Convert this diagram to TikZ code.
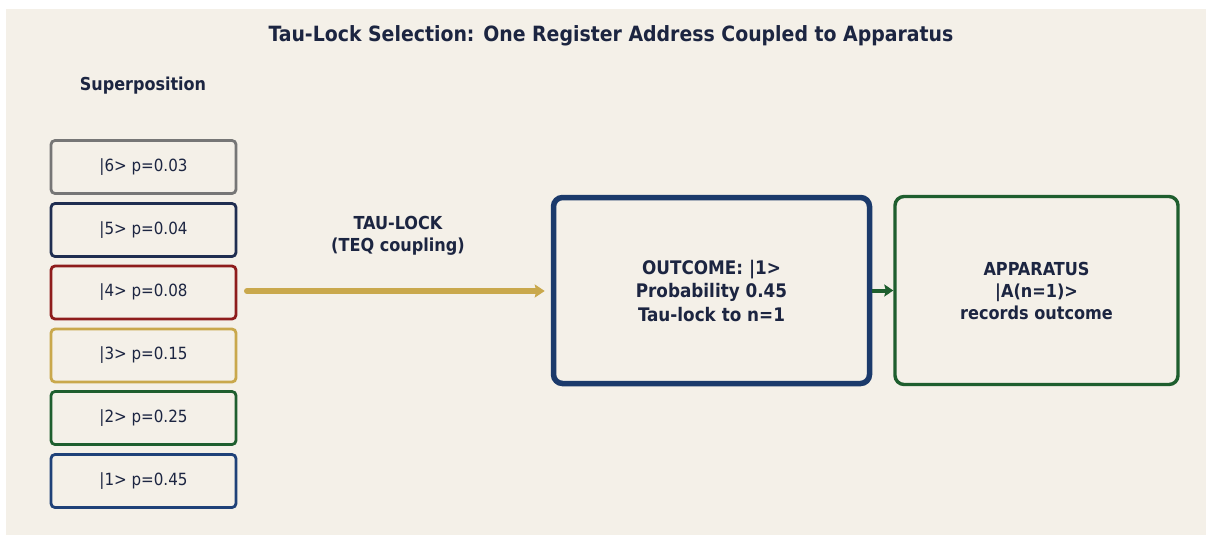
\documentclass[tikz,border=0pt]{standalone}
\usepackage{fontspec}
\setmainfont{DejaVu Sans Condensed}
\usetikzlibrary{arrows.meta, positioning}
\definecolor{paper}{HTML}{F4F0E8}
\definecolor{ink}{HTML}{1C2541}
\definecolor{cgray}{HTML}{767676}
\definecolor{cnavy}{HTML}{1F2D50}
\definecolor{cred}{HTML}{8E1C1C}
\definecolor{cgold}{HTML}{C9A84C}
\definecolor{cgreen}{HTML}{1E5E2E}
\definecolor{cblue}{HTML}{1F4178}
\definecolor{cdeep}{HTML}{1B3A6B}
\tikzset{
    statebox/.style={draw=#1, line width=2.8pt, rounded corners=4pt, fill=paper,
        minimum width=185pt, minimum height=53pt, inner sep=0pt, text=ink, font=\fontsize{16.8}{20}\selectfont},
    bigbox/.style={draw=#1, rounded corners=9pt, fill=paper, inner sep=0pt, text=ink, align=center},
    heading/.style={text=ink, font=\bfseries\fontsize{#1}{22}\selectfont, align=center}
}
\begin{document}
\begin{tikzpicture}[x=1pt, y=-1pt]
    \useasboundingbox (0,0) rectangle (1206,535);
    \fill[white] (0,0) rectangle (1206,535);
    \fill[paper] (6,9) rectangle (1206,535);
    \node[heading=21] (title) at (611,35.5) {Tau-Lock Selection: One Register Address Coupled to Apparatus};
    \node[heading=17.8] (sup) at (143,85.5) {Superposition};
    % register states
    \node[statebox=cgray] (s6) at (143.5,167) {|6> p=0.03};
    \node[statebox=cnavy] (s5) at (143.5,230) {|5> p=0.04};
    \node[statebox=cred] (s4) at (143.5,292.5) {|4> p=0.08};
    \node[statebox=cgold] (s3) at (143.5,355.5) {|3> p=0.15};
    \node[statebox=cgreen] (s2) at (143.5,418) {|2> p=0.25};
    \node[statebox=cblue] (s1) at (143.5,481) {|1> p=0.45};
    \node[bigbox=cdeep, line width=5.5pt, minimum width=316pt, minimum height=186pt,
        font=\bfseries\fontsize{18.7}{23.5}\selectfont] (outcome) at (711.5,290.5)
        {OUTCOME: |1>\\Probability 0.45\\Tau-lock to n=1};
    \node[bigbox=cgreen, line width=3.4pt, minimum width=283pt, minimum height=188pt,
        font=\bfseries\fontsize{17.9}{22}\selectfont] (app) at (1036.5,290.5)
        {APPARATUS\\|A(n=1)>\\records outcome};
    \coordinate (g0) at (247,291);
    \draw[cgold, line width=6pt, line cap=round, shorten >=6pt, -{Stealth[length=10pt, width=13pt, inset=1.5pt]}]
        (g0) -- (g0 -| outcome.west);
    \node[heading=17.9] (tau) at (398,236) {TAU-LOCK\\(TEQ coupling)};
    \draw[cgreen, line width=4pt, -{Stealth[length=9pt, width=12pt, inset=1.5pt]}]
        (outcome.east) -- (app.west);
\end{tikzpicture}
\end{document}
